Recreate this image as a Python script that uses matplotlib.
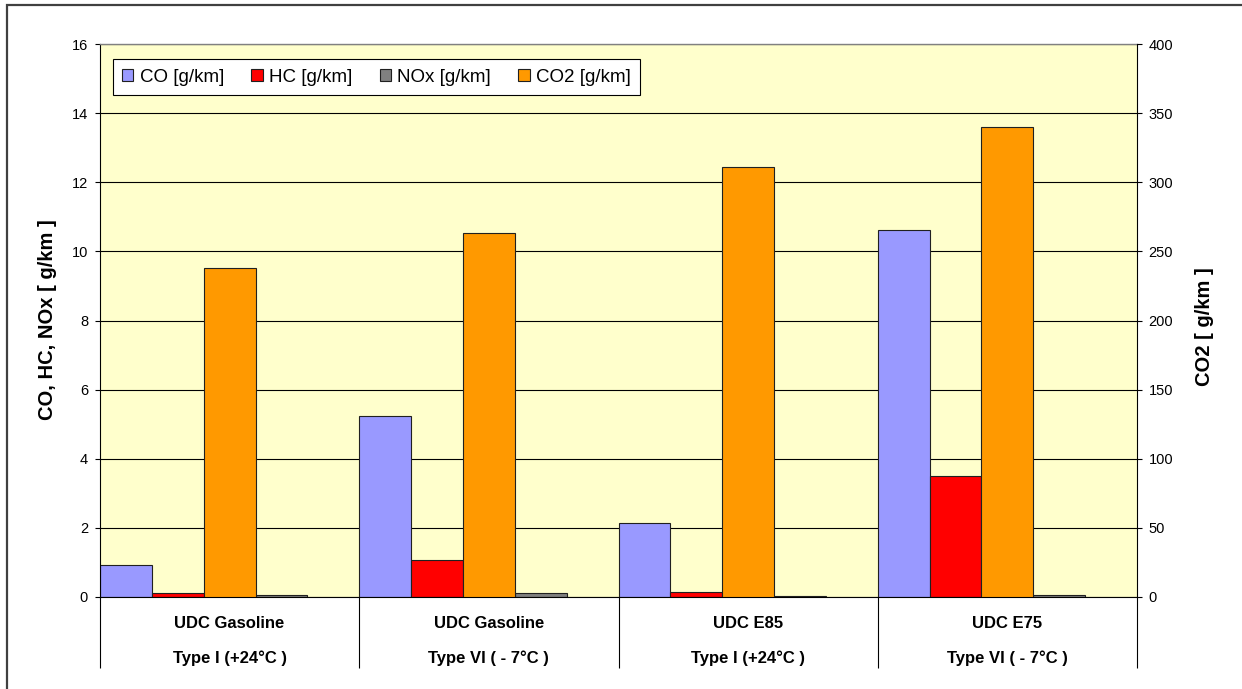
import matplotlib
matplotlib.use("Agg")
import matplotlib.pyplot as plt
from matplotlib.patches import Rectangle
from matplotlib.transforms import blended_transform_factory
import numpy as np

plt.rcParams['font.family'] = ['Liberation Sans', 'DejaVu Sans']

# Test cycles (two-level category axis)
cycles = ["UDC Gasoline", "UDC Gasoline", "UDC E85", "UDC E75"]
test_types = ["Type I (+24°C )", "Type VI ( - 7°C )", "Type I (+24°C )", "Type VI ( - 7°C )"]

# Emissions per test
co = [0.93, 5.24, 2.15, 10.62]     # g/km
hc = [0.13, 1.07, 0.15, 3.50]      # g/km
nox = [0.05, 0.13, 0.02, 0.05]     # g/km
co2 = [238, 263, 311, 340]         # g/km (secondary axis)

left_ticks = [0, 2, 4, 6, 8, 10, 12, 14, 16]
right_ticks = [0, 50, 100, 150, 200, 250, 300, 350, 400]

W, H = 1242, 689
fig = plt.figure(figsize=(W / 100, H / 100), dpi=100)
fig.patch.set_facecolor('white')

# outer chart border (left and top edges visible)
fig.patches.append(Rectangle((7 / W, -0.1), 1.2, 1.1 - 5 / H, transform=fig.transFigure,
                             fill=False, edgecolor='#404040', lw=1.6, clip_on=False))

ax = fig.add_axes([100 / W, (H - 597) / H, 1037 / W, 553 / H])
ax.set_facecolor('#FFFFCC')
ax2 = ax.twinx()

x = np.arange(len(cycles))
w = 0.2
edge = dict(edgecolor='#202020', linewidth=0.8, align='edge')
b_co = ax.bar(x + 0 * w, co, w, color='#9999FF', label='CO [g/km]', **edge)
b_hc = ax.bar(x + 1 * w, hc, w, color='#FF0000', label='HC [g/km]', **edge)
b_nox = ax.bar(x + 3 * w, nox, w, color='#808080', label='NOx [g/km]', **edge)
b_co2 = ax2.bar(x + 2 * w, co2, w, color='#FF9900', label='CO2 [g/km]', **edge)

ax.set_xlim(0, len(cycles))
ax.set_ylim(0, 16)
ax2.set_ylim(0, 400)
ax.set_yticks(left_ticks)
ax2.set_yticks(right_ticks)
ax.yaxis.grid(True, color='black', linewidth=0.8)
ax.set_axisbelow(True)

# group separators drawn as long outward x ticks
ax.set_xticks(np.arange(len(cycles) + 1))
ax.set_xticklabels([])
ax.tick_params(axis='x', length=51, width=0.8, color='black', direction='out')
ax.tick_params(axis='y', length=3.6, width=0.8, pad=5, labelsize=10.5, colors='black')
ax2.tick_params(axis='y', length=3.6, width=0.8, pad=4.8, labelsize=10.5, colors='black')

for s in ['left', 'bottom']:
    ax.spines[s].set_color('black')
    ax.spines[s].set_linewidth(0.8)
ax.spines['right'].set_visible(False)
ax.spines['top'].set_color('#808080')
ax.spines['top'].set_linewidth(1.0)
ax2.spines['left'].set_visible(False)
ax2.spines['bottom'].set_visible(False)
ax2.spines['top'].set_visible(False)
ax2.spines['right'].set_color('black')
ax2.spines['right'].set_linewidth(0.8)

# two-level category labels
trans = blended_transform_factory(ax.transData, ax.transAxes)
for i, (c, t) in enumerate(zip(cycles, test_types)):
    ax.text(i + 0.5, (597 - 623) / 553, c, transform=trans, ha='center', va='center',
            fontsize=12, fontweight='bold', clip_on=False)
    ax.text(i + 0.5, (597 - 658) / 553, t, transform=trans, ha='center', va='center',
            fontsize=12, fontweight='bold', clip_on=False)

# axis titles
fig.text(48 / W, 1 - 320 / H, 'CO, HC, NOx [ g/km ]', rotation=90, ha='center', va='center',
         fontsize=14.5, fontweight='bold')
fig.text(1205 / W, 1 - 327 / H, 'CO2 [ g/km ]', rotation=90, ha='center', va='center',
         fontsize=14.5, fontweight='bold')

handles = [b_co, b_hc, b_nox, b_co2]
labels = [h.get_label() for h in handles]
leg = ax2.legend(handles, labels, loc='upper left',
                 bbox_to_anchor=(12.5 / 1037, (597 - 59.3) / 553), borderaxespad=0,
                 ncol=4, frameon=True, fancybox=False, edgecolor='black', framealpha=1,
                 fontsize=13.5, handlelength=0.6, handleheight=0.6,
                 handletextpad=0.35, columnspacing=1.45, borderpad=0.5)
leg.get_frame().set_linewidth(0.8)

fig.savefig('out.png', dpi=100, facecolor='white')
